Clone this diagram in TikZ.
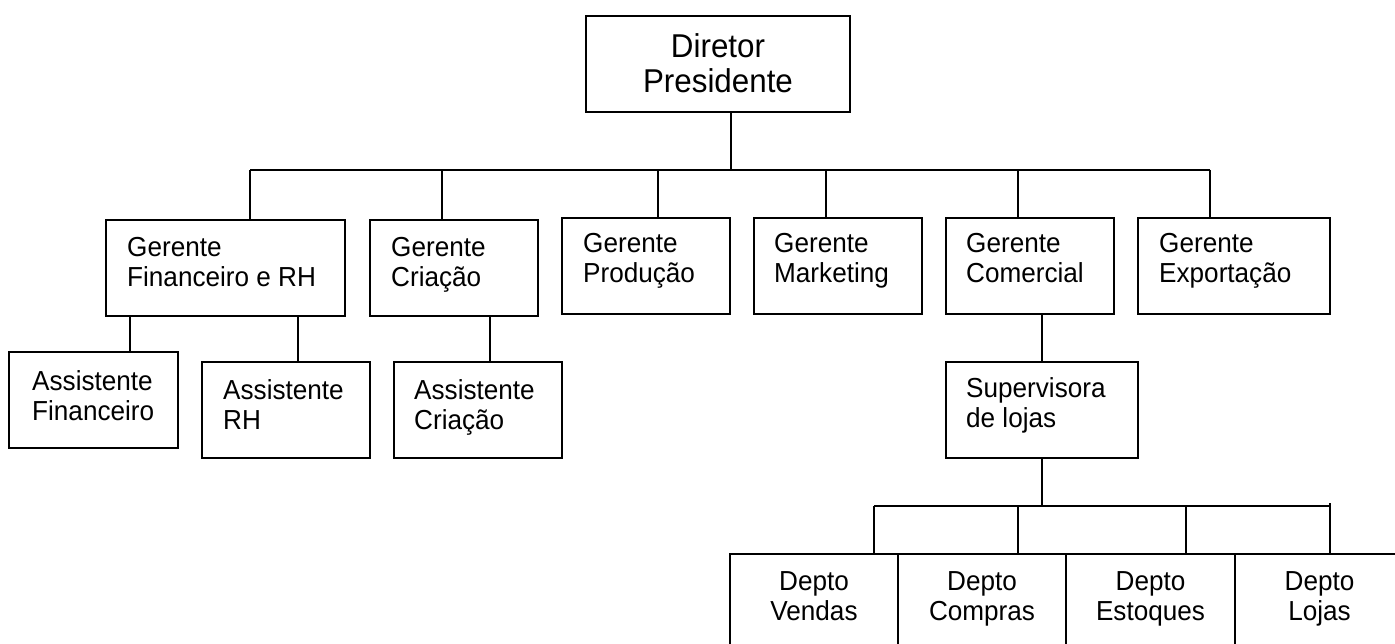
\documentclass[tikz,border=0pt]{standalone}
\usepackage{fontspec}
\setmainfont{Liberation Sans}[FakeStretch=0.95]
\newcommand{\twol}[2]{\begin{tabular}[t]{@{}l@{}}#1\\#2\end{tabular}}
\newcommand{\twoc}[2]{\begin{tabular}[t]{@{}c@{}}#1\\#2\end{tabular}}
\begin{document}
\begin{tikzpicture}[x=1pt,y=-1pt,
  box/.style={draw, line width=1.6pt, rectangle, inner sep=0pt, outer sep=0pt, anchor=north west, minimum height=96pt},
  lbl/.style={inner sep=0pt, anchor=base west, font=\fontsize{27.5}{30}\selectfont},
  lblc/.style={inner sep=0pt, anchor=base, font=\fontsize{27.5}{30}\selectfont},
  conn/.style={line width=1.6pt}]
\useasboundingbox (0,0) rectangle (1395,644);
\clip (0,0) rectangle (1395,644);
% boxes
\node[box, minimum width=264pt] (dir) at (586,16) {};
\node[box, minimum width=239pt] (gfin) at (106,220) {};
\node[box, minimum width=168pt] (gcri) at (370,220) {};
\node[box, minimum width=168pt] (gprod) at (562,218) {};
\node[box, minimum width=168pt] (gmkt) at (754,218) {};
\node[box, minimum width=168pt] (gcom) at (946,218) {};
\node[box, minimum width=192pt] (gexp) at (1138,218) {};
\node[box, minimum width=169pt] (afin) at (9,352) {};
\node[box, minimum width=168pt] (arh) at (202,362) {};
\node[box, minimum width=168pt] (acri) at (394,362) {};
\node[box, minimum width=192pt] (sup) at (946,362) {};
\node[box, minimum width=168pt, minimum height=100pt] (dv) at (730,554) {};
\node[box, minimum width=168pt, minimum height=100pt] (dc) at (898,554) {};
\node[box, minimum width=169pt, minimum height=100pt] (de) at (1066,554) {};
\node[box, minimum width=169pt, minimum height=100pt] (dl) at (1235,554) {};
% texts
\node[inner sep=0pt, anchor=base, font=\fontsize{33}{35}\selectfont] (dirt) at (718,58) {\twoc{Diretor}{Presidente}};
\node[lbl] (gfint) at (127,257) {\twol{Gerente}{Financeiro e RH}};
\node[lbl] (gcrit) at (391,257) {\twol{Gerente}{Criação}};
\node[lbl] (gprodt) at (583,253) {\twol{Gerente}{Produção}};
\node[lbl] (gmktt) at (774,253) {\twol{Gerente}{Marketing}};
\node[lbl] (gcomt) at (966,253) {\twol{Gerente}{Comercial}};
\node[lbl] (gexpt) at (1159,253) {\twol{Gerente}{Exportação}};
\node[lbl] (afint) at (32,390) {\twol{Assistente}{Financeiro}};
\node[lbl] (arht) at (223,399) {\twol{Assistente}{RH}};
\node[lbl] (acrit) at (414,399) {\twol{Assistente}{Criação}};
\node[lbl] (supt) at (966,397) {\twol{Supervisora}{de lojas}};
\node[lblc] (dvt) at (dv.north |- 0,590) {\twoc{Depto}{Vendas}};
\node[lblc] (dct) at (dc.north |- 0,590) {\twoc{Depto}{Compras}};
\node[lblc] (det) at (de.north |- 0,590) {\twoc{Depto}{Estoques}};
\node[lblc] (dlt) at (dl.north |- 0,590) {\twoc{Depto}{Lojas}};
% bus coordinates
\coordinate (b0) at (731,170);
\coordinate (b1) at (250,170);
\coordinate (b2) at (442,170);
\coordinate (b3) at (658,170);
\coordinate (b4) at (826,170);
\coordinate (b5) at (1018,170);
\coordinate (b6) at (1210,170);
\coordinate (f1) at (130,316);
\coordinate (f2) at (298,316);
\coordinate (c1) at (490,316);
\coordinate (s0) at (1042,506);
\coordinate (d1) at (874,506);
\coordinate (d2) at (1018,506);
\coordinate (d3) at (1186,506);
\coordinate (d4) at (1330,503);
% connectors
\draw[conn] (dir.south -| b0) -- (b0);
\draw[conn] (b1) -- (b6);
\draw[conn] (b1) -- (gfin.north -| b1);
\draw[conn] (b2) -- (gcri.north -| b2);
\draw[conn] (b3) -- (gprod.north -| b3);
\draw[conn] (b4) -- (gmkt.north -| b4);
\draw[conn] (b5) -- (gcom.north -| b5);
\draw[conn] (b6) -- (gexp.north -| b6);
\draw[conn] (f1) -- (afin.north -| f1);
\draw[conn] (f2) -- (arh.north -| f2);
\draw[conn] (c1) -- (acri.north -| c1);
\draw[conn] (gcom.south -| s0) -- (sup.north -| s0);
\draw[conn] (sup.south -| s0) -- (s0);
\draw[conn] (d1) -- (d1 -| d4);
\draw[conn] (d1) -- (dv.north -| d1);
\draw[conn] (d2) -- (dc.north -| d2);
\draw[conn] (d3) -- (de.north -| d3);
\draw[conn] (d4) -- (dl.north -| d4);
\end{tikzpicture}
\end{document}
